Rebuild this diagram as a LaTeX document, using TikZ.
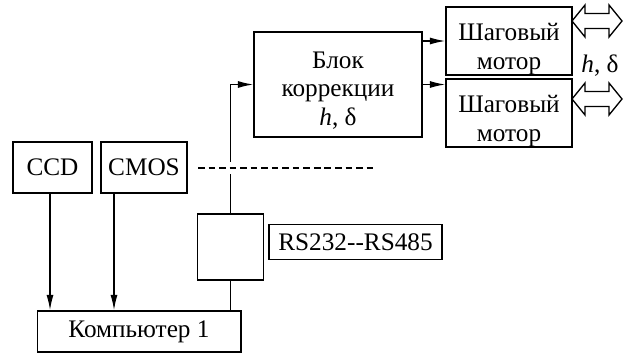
\documentclass[tikz,border=0pt]{standalone}
\usepackage{fontspec}
\setmainfont{Liberation Serif}
\usetikzlibrary{arrows.meta}

\newcommand{\motionarrow}[1]{\draw[wire] (#1) ++(-25,0) -- ++(13,-16) -- ++(0,8.5) -- ++(24,0) -- ++(0,-8.5) -- ++(13,16) -- ++(-13,16) -- ++(0,-8.5) -- ++(-24,0) -- ++(0,8.5) -- cycle;}
\newcommand{\lowered}[1]{\rule{0pt}{#1}}

\begin{document}
\begin{tikzpicture}[x=0.016cm, y=-0.016cm, font=\rmfamily\fontsize{11.5}{13}\selectfont]
		\tikzset{block/.style={draw, line width=0.6pt, align=center, inner sep=0pt}}
		\tikzset{wire/.style={line width=0.6pt}}
		\tikzset{edge/.style={wire, -{Latex[length=7pt, width=3.2pt]}}}
		\tikzset{link/.style={wire, dash pattern=on 3pt off 1.8pt}}
		\useasboundingbox (0,0) rectangle (626,353);
					%blocks
					\node[block, minimum width=2.69cm, minimum height=1.68cm] (corr) at (338,84.5) {\lowered{13pt}Блок\\коррекции\\\textit{h}, δ};
					\node[block, minimum width=2.02cm, minimum height=1.09cm] (motorA) at (509,41) {\lowered{15pt}Шаговый\\мотор};
					\node[block, minimum width=2.02cm, minimum height=1.09cm] (motorB) at (509,113) {\lowered{15pt}Шаговый\\мотор};
					\node[block, minimum width=1.26cm, minimum height=0.82cm] (ccd) at (52.5,167.5) {CCD};
					\node[block, minimum width=1.38cm, minimum height=0.82cm] (cmos) at (144,167.5) {CMOS};
					\node[block, minimum width=1.06cm, minimum height=1.06cm] (conv) at (230.5,247) {};
					\node[block, minimum width=2.77cm, minimum height=0.55cm] (rs) at (355.5,242) {RS232-{}-RS485};
					\node[block, minimum width=3.26cm, minimum height=0.66cm] (pc) at (139,331.5) {Компьютер 1};
					\node (hd) at (600,66) {\textit{h}, δ};
					\coordinate (moveA) at (597,21);
					\coordinate (moveB) at (597,99);
					\coordinate (linkA) at (198,168);
					\coordinate (linkB) at (375,168);
					%edges
					\draw[edge] (motorA.west -| corr.east) -- (motorA.west);
					\draw[edge] (corr.east) -- (corr.east -| motorB.west);
					\draw[edge] (conv.north) |- (corr.west);
					\draw[wire] (conv.south) -- (conv.south |- pc.north);
					\draw[edge] ([xshift=-0.04cm]ccd.south) -- ([xshift=-0.04cm]ccd.south |- pc.north);
					\draw[edge] ([xshift=-0.48cm]cmos.south) -- ([xshift=-0.48cm]cmos.south |- pc.north);
					\draw[white, line width=5.5pt] (linkA) -- (linkB);
					\draw[link] (linkA) -- (linkB);
					%motion
					\motionarrow{moveA}
					\motionarrow{moveB}
\end{tikzpicture}
\end{document}
